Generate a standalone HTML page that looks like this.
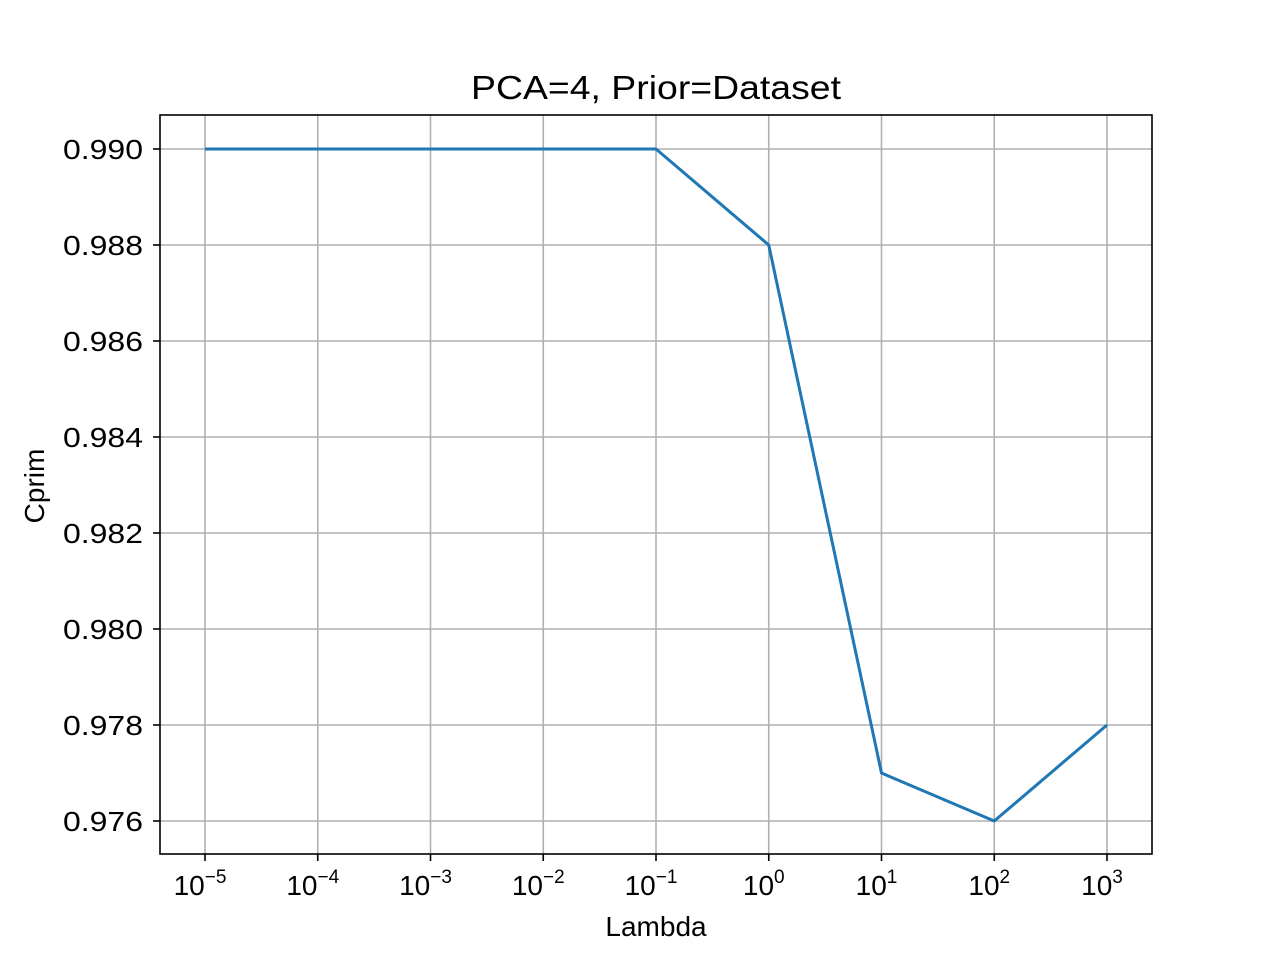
<!DOCTYPE html>
<html><head><meta charset="utf-8"><style>
html,body{margin:0;padding:0;background:#fff;}
svg text{font-family:"Liberation Sans","DejaVu Sans",sans-serif;fill:#000;}
</style></head><body>
<svg id="chart" width="1280" height="960" xmlns="http://www.w3.org/2000/svg"></svg>
<script>
const xExponents = [-5,-4,-3,-2,-1,0,1,2,3];
const cprimValues = [0.990,0.990,0.990,0.990,0.990,0.988,0.977,0.976,0.978];
const yTicks = [0.976,0.978,0.980,0.982,0.984,0.986,0.988,0.990];
const yTickLabels = ["0.976","0.978","0.980","0.982","0.984","0.986","0.988","0.990"];
const xTickExps = [-5,-4,-3,-2,-1,0,1,2,3];

const L=160,R=1152,T=115,B=854;
function xs(e){return 205+(e+5)*(1107-205)/8;}
function ys(v){return 821-(v-0.976)*(821-149)/0.014;}
const svg=document.getElementById('chart');
const NS="http://www.w3.org/2000/svg";
function mk(tag,attrs,parent){const el=document.createElementNS(NS,tag);for(const k in attrs)el.setAttribute(k,attrs[k]);(parent||svg).appendChild(el);return el;}

const grid=mk('g',{});


xTickExps.forEach(e=>{const x=xs(e);mk('line',{x1:x,x2:x,y1:T,y2:B,stroke:'#b0b0b0','stroke-width':1.6},grid);});
yTicks.forEach(v=>{const y=ys(v);mk('line',{x1:L,x2:R,y1:y,y2:y,stroke:'#b0b0b0','stroke-width':1.6},grid);});

const pts=xExponents.map((e,i)=>xs(e)+','+ys(cprimValues[i])).join(' ');
const line=mk('polyline',{points:pts,fill:'none',stroke:'#1f77b4','stroke-width':3,'stroke-linejoin':'round'});



const frame=mk('rect',{x:L,y:T,width:R-L,height:B-T,fill:'none',stroke:'#000','stroke-width':1.6});



xTickExps.forEach(e=>{
  const x=xs(e);
  mk('line',{x1:x,x2:x,y1:B,y2:B+7,stroke:'#000','stroke-width':1.6});
  const t=mk('text',{x:x-5,y:B+41,'font-size':28,'text-anchor':'middle'});
  
  
  t.textContent='10';
  const s=mk('tspan',{dy:-12,'font-size':19},t);
  s.textContent=(e<0?'\u2212':'')+Math.abs(e);
});
yTicks.forEach((v,i)=>{
  const y=ys(v);
  mk('line',{x1:L-7,x2:L,y1:y,y2:y,stroke:'#000','stroke-width':1.6});
  const t=mk('text',{x:L-17,y:y+10,'font-size':28,'text-anchor':'end',textLength:80,lengthAdjust:'spacingAndGlyphs'});
  
  
  t.textContent=yTickLabels[i];
});
const title=mk('text',{x:656,y:99,'font-size':33,'text-anchor':'middle',textLength:370,lengthAdjust:'spacingAndGlyphs'});


title.textContent='PCA=4, Prior=Dataset';
const xl=mk('text',{x:656,y:936,'font-size':28,'text-anchor':'middle'});


xl.textContent='Lambda';
const yl=mk('text',{x:0,y:0,'font-size':28,'text-anchor':'middle',transform:'translate(44,486) rotate(-90)'});


yl.textContent='Cprim';
</script>
</body></html>
